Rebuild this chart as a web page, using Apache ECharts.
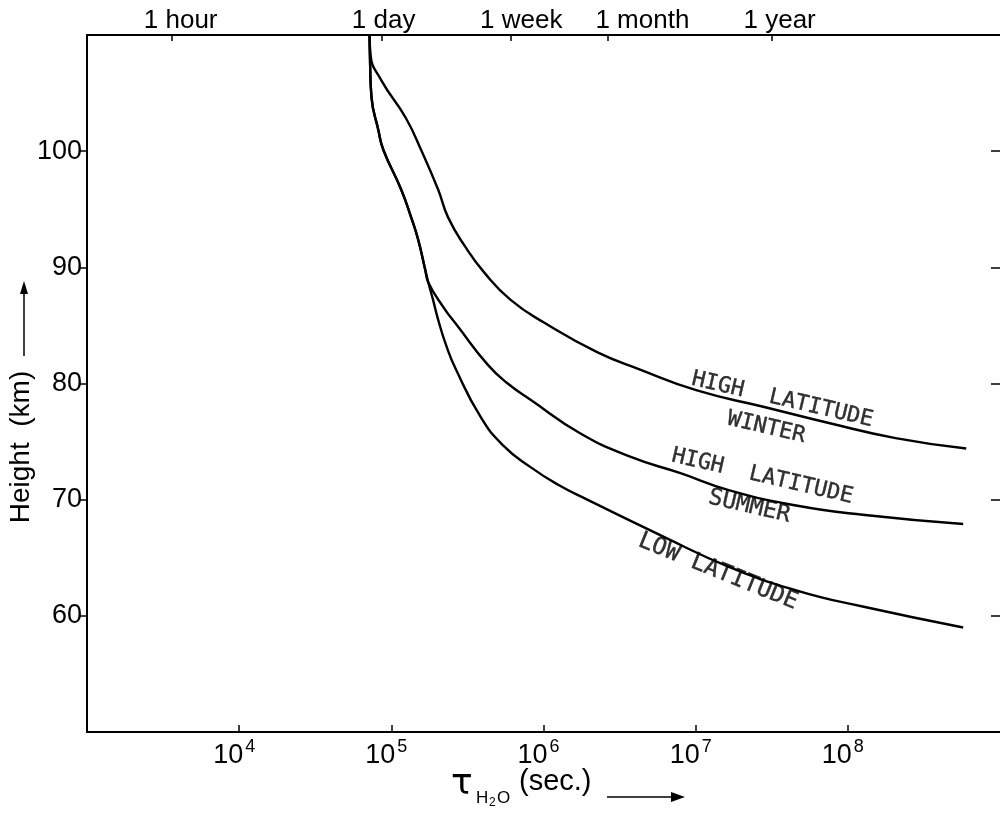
<!DOCTYPE html>
<html><head><meta charset="utf-8">
<script src="https://cdn.jsdelivr.net/npm/echarts@6/dist/echarts.min.js"></script>
<style>html,body{margin:0;padding:0;background:#fff}#c{width:1000px;height:814px}</style>
</head><body><div id="c"></div>
<script>
// ---- data ----
const heightTicks = [60, 70, 80, 90, 100];
const tauTicks = [1e4, 1e5, 1e6, 1e7, 1e8];
const timeMarks = [3600, 86400, 604800, 2629800, 31557600];
const timeLabels = ['1 hour', '1 day', '1 week', '1 month', '1 year'];

const winterTau = [7.2e4, 7.3e4, 8.6e4, 1.24e5, 1.57e5, 2.03e5, 2.36e5, 3.05e5, 4.11e5, 6.08e5, 1.02e6, 2.25e6, 4.31e6, 1.02e7, 2.78e7, 7.5e7, 2.06e8, 6.0e8];
const winterH   = [110, 108.3, 106.1, 102.9, 100.1, 96.7, 94.3, 91.8, 89.5, 87.2, 85.2, 82.7, 81.2, 79.4, 78.0, 76.6, 75.3, 74.4];

const summerTau = [7.2e4, 7.25e4, 7.4e4, 8.22e4, 8.87e4, 1.16e5, 1.35e5, 1.50e5, 1.67e5, 1.75e5, 2.19e5, 2.74e5, 4.31e5, 5.82e5, 8.22e5, 1.75e6, 3.71e6, 7.86e6, 1.67e7, 4.57e7, 1.25e8, 5.73e8];
const summerH   = [110, 107.6, 104.7, 101.8, 100.1, 96.7, 94.3, 92.4, 89.8, 88.7, 86.6, 84.9, 81.6, 80.0, 78.6, 75.7, 73.7, 72.3, 70.8, 69.5, 68.7, 67.9];

const lowTau = [7.2e4, 7.25e4, 7.4e4, 8.22e4, 8.87e4, 1.16e5, 1.35e5, 1.50e5, 1.67e5, 1.75e5, 1.88e5, 2.03e5, 2.29e5, 2.66e5, 3.87e5, 5.40e5, 8.22e5, 1.24e6, 1.94e6, 6.18e6, 1.67e7, 4.57e7, 1.25e8, 5.73e8];
const lowH   = [110, 107.6, 104.7, 101.8, 100.1, 96.7, 94.3, 92.4, 89.8, 88.7, 87.2, 85.5, 83.3, 81.2, 77.1, 74.7, 72.8, 71.3, 70.0, 66.8, 64.2, 62.2, 60.8, 59.0];

const noteTexts = ['HIGH  LATITUDE', 'WINTER', 'HIGH  LATITUDE', 'SUMMER', 'LOW LATITUDE'];
const noteTau   = [3.71e7, 2.91e7, 2.74e7, 2.25e7, 1.40e7];
const noteH     = [78.6, 76.2, 72.0, 69.4, 63.8];
const noteAngle = [-13, -13, -13, -13, -22];

// ---- chart ----
const pairs = (xs, ys) => xs.map((x, i) => [x, ys[i]]);
const sans = "'Liberation Sans', sans-serif";
const black = '#000';
// small horizontal nudges of the top labels, as lettered in the original
const topLabelPad = [18, 4, 22, 70, 16];
const noteFont = [22, 22, 22, 23, 23.5];

function nearestIdx(arr, v) {
  let best = 0, bd = Infinity;
  arr.forEach((m, i) => { const d = Math.abs(Math.log10(m) - Math.log10(v)); if (d < bd) { bd = d; best = i; } });
  return best;
}

const lineSeries = (name, xs, ys) => ({
  name, type: 'line', xAxisIndex: 0, yAxisIndex: 0,
  data: pairs(xs, ys), showSymbol: false, symbol: 'none',
  smooth: 0.5,
  lineStyle: { color: black, width: 2.4 }, silent: true, z: 3
});

const topRich = {};
timeLabels.forEach((t, i) => {
  topRich['t' + i] = { fontFamily: sans, fontSize: 26, color: black, padding: [0, 0, 0, topLabelPad[i]] };
});

const chart = echarts.init(document.getElementById('c'), null, { renderer: 'canvas' });
chart.setOption({
  animation: false,
  backgroundColor: '#fff',
  grid: { left: 87, top: 35, width: 918, height: 697 },
  xAxis: [
    {
      type: 'log', logBase: 10, min: 1e3, max: 1e9, position: 'bottom',
      axisLine: { lineStyle: { color: black, width: 2 } },
      axisTick: { inside: true, length: 7, customValues: tauTicks, lineStyle: { color: black, width: 1.5 } },
      minorTick: { show: false }, splitLine: { show: false },
      axisLabel: {
        customValues: tauTicks, margin: 6, color: black, verticalAlign: 'top',
        formatter: v => '{b|10}{s|' + Math.round(Math.log10(v)) + '}',
        rich: {
          b: { fontFamily: sans, fontSize: 27, color: black, verticalAlign: 'top', padding: [4, 0, 0, 0] },
          s: { fontFamily: sans, fontSize: 18, color: black, verticalAlign: 'top', padding: [0, 10, 0, 2] }
        }
      }
    },
    {
      type: 'log', logBase: 10, min: 1e3, max: 1e9, position: 'top',
      axisLine: { lineStyle: { color: black, width: 2 } },
      axisTick: { inside: true, length: 6, customValues: timeMarks, lineStyle: { color: black, width: 1.5 } },
      minorTick: { show: false }, splitLine: { show: false },
      axisLabel: {
        customValues: timeMarks, margin: 1, color: black,
        formatter: v => { const i = nearestIdx(timeMarks, v); return '{t' + i + '|' + timeLabels[i] + '}'; },
        rich: topRich
      }
    }
  ],
  yAxis: [
    {
      type: 'value', min: 50, max: 110, interval: 10,
      axisLine: { show: true, lineStyle: { color: black, width: 2 } },
      axisTick: { show: true, inside: false, length: 7, customValues: heightTicks, lineStyle: { color: black, width: 1.5 } },
      splitLine: { show: false },
      axisLabel: { customValues: heightTicks, margin: 5, color: black, fontFamily: sans, fontSize: 27 }
    },
    {
      type: 'value', min: 50, max: 110, interval: 10, position: 'right',
      axisLine: { show: false },
      axisTick: { show: true, inside: true, length: 9, customValues: heightTicks, lineStyle: { color: black, width: 1.5 } },
      splitLine: { show: false }, axisLabel: { show: false }
    }
  ],
  series: [
    lineSeries('High latitude winter', winterTau, winterH),
    lineSeries('High latitude summer', summerTau, summerH),
    lineSeries('Low latitude', lowTau, lowH),
    {
      type: 'scatter', xAxisIndex: 0, yAxisIndex: 0, symbolSize: 0, silent: true, z: 4,
      data: noteTexts.map((t, i) => ({ value: [noteTau[i], noteH[i]], name: t,
        label: { rotate: noteAngle[i], fontSize: noteFont[i] } })),
      label: {
        show: true, position: 'inside', formatter: p => p.name,
        fontFamily: "'DejaVu Sans Mono', monospace", color: black,
        textBorderColor: black, textBorderWidth: 0.4
      }
    }
  ],
  graphic: [
    { type: 'text', x: 21, y: 447, rotation: Math.PI / 2,
      style: { text: 'Height  (km)', font: "28px 'Liberation Sans'", fill: black, align: 'center', verticalAlign: 'middle' } },
    { type: 'line', shape: { x1: 24, y1: 356, x2: 24, y2: 292 }, style: { stroke: black, lineWidth: 1.5 } },
    { type: 'polygon', shape: { points: [[24, 281], [20, 294], [28, 294]] }, style: { fill: black } },
    { type: 'text', x: 451, y: 785, style: { text: 'τ', font: "36px 'DejaVu Sans'", fill: black, verticalAlign: 'middle' } },
    { type: 'text', x: 476, y: 798, style: { text: 'H', font: "17px 'Liberation Sans'", fill: black, verticalAlign: 'middle' } },
    { type: 'text', x: 489, y: 803, style: { text: '2', font: "12px 'Liberation Sans'", fill: black, verticalAlign: 'middle' } },
    { type: 'text', x: 497, y: 798, style: { text: 'O', font: "17px 'Liberation Sans'", fill: black, verticalAlign: 'middle' } },
    { type: 'text', x: 519, y: 782, style: { text: '(sec.)', font: "29px 'Liberation Sans'", fill: black, verticalAlign: 'middle' } },
    { type: 'line', shape: { x1: 607, y1: 797, x2: 672, y2: 797 }, style: { stroke: black, lineWidth: 1.5 } },
    { type: 'polygon', shape: { points: [[685, 797], [671, 792], [671, 802]] }, style: { fill: black } }
  ]
});
</script>
</body></html>
